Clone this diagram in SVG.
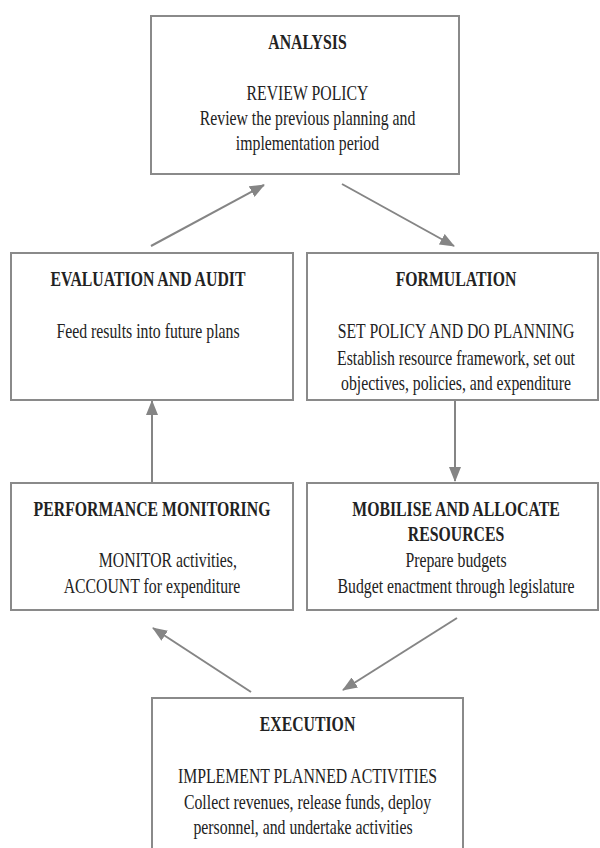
<svg xmlns="http://www.w3.org/2000/svg" width="600" height="848" viewBox="0 0 600 848">
<style>
.box{fill:#fff;stroke:#8a8a8a;stroke-width:2}
.t{font-family:"Liberation Serif","Times New Roman",serif;font-size:21px;fill:#222;text-anchor:middle}
.b{font-weight:bold}
.c{stroke:#858585;stroke-width:2;fill:none;marker-end:url(#ah)}
</style>
<defs>
<marker id="ah" markerUnits="userSpaceOnUse" markerWidth="15" markerHeight="12" refX="14" refY="6" orient="auto">
<path d="M0,0 L15,6 L0,12 z" fill="#858585"/>
</marker>
</defs>
<rect width="600" height="848" fill="#fff"/>
<g id="connectors">
<line class="c" x1="151" y1="246" x2="264" y2="185"/>
<line class="c" x1="342" y1="184" x2="454" y2="246"/>
<line class="c" x1="455" y1="400" x2="455" y2="481"/>
<line class="c" x1="152" y1="483" x2="152" y2="401"/>
<line class="c" x1="457" y1="618" x2="343" y2="690"/>
<line class="c" x1="251" y1="692" x2="153" y2="628"/>
</g>
<g id="analysis">
<rect class="box" x="151" y="16" width="308" height="158"/>
<g transform="translate(307.5,0) scale(0.752,1)">
<text class="t b" x="0" y="49">ANALYSIS</text>
<text class="t" x="0" y="100">REVIEW POLICY</text>
<text class="t" x="0" y="125">Review the previous planning and</text>
<text class="t" x="0" y="150">implementation period</text>
</g>
</g>
<g id="evaluation">
<rect class="box" x="11" y="253" width="282" height="147"/>
<g transform="translate(148,0) scale(0.752,1)">
<text class="t b" x="0" y="286">EVALUATION AND AUDIT</text>
<text class="t" x="0" y="338">Feed results into future plans</text>
</g>
</g>
<g id="formulation">
<rect class="box" x="307" y="253" width="291" height="147"/>
<g transform="translate(456,0) scale(0.752,1)">
<text class="t b" x="0" y="286">FORMULATION</text>
<text class="t" x="0" y="338">SET POLICY AND DO PLANNING</text>
<text class="t" x="0" y="365">Establish resource framework, set out</text>
<text class="t" x="0" y="390">objectives, policies, and expenditure</text>
</g>
</g>
<g id="performance">
<rect class="box" x="11" y="483" width="282" height="127"/>
<g transform="translate(152,0) scale(0.752,1)">
<text class="t b" x="0" y="516">PERFORMANCE MONITORING</text>
<text class="t" x="21" y="567">MONITOR activities,</text>
<text class="t" x="0" y="593">ACCOUNT for expenditure</text>
</g>
</g>
<g id="mobilise">
<rect class="box" x="307" y="483" width="291" height="127"/>
<g transform="translate(456,0) scale(0.752,1)">
<text class="t b" x="0" y="516">MOBILISE AND ALLOCATE</text>
<text class="t b" x="0" y="541">RESOURCES</text>
<text class="t" x="0" y="567">Prepare budgets</text>
<text class="t" x="0" y="593">Budget enactment through legislature</text>
</g>
</g>
<g id="execution">
<rect class="box" x="152" y="698" width="311" height="170"/>
<g transform="translate(307.5,0) scale(0.752,1)">
<text class="t b" x="0" y="731">EXECUTION</text>
<text class="t" x="0" y="783">IMPLEMENT PLANNED ACTIVITIES</text>
<text class="t" x="0" y="809">Collect revenues, release funds, deploy</text>
<text class="t" x="-6" y="834">personnel, and undertake activities</text>
</g>
</g>
</svg>
